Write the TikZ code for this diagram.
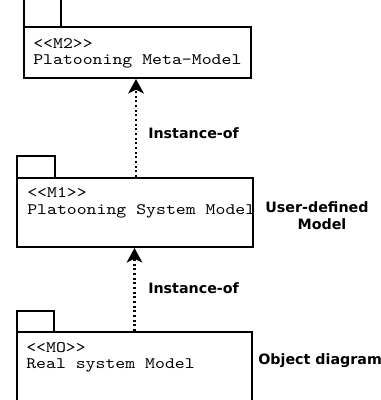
\documentclass[tikz,border=0pt]{standalone}
\usepackage{fontspec}
\setmainfont{DejaVu Sans}
\newfontfamily\pkgfamily[FakeStretch=1.18]{lmmono10-regular.otf}
\usetikzlibrary{fit,arrows.meta}
\newcommand{\pkgfont}{\pkgfamily\fontsize{12}{14}\selectfont}
\begin{document}
\begin{tikzpicture}[x=0.75pt,y=-0.75pt,
  pkgbox/.style={draw=black,line width=1.5pt,inner sep=0pt,fill=white},
  pkgtab/.style={draw=black,line width=1.5pt,fill=white},
  monotext/.style={font=\pkgfont,anchor=base west,inner sep=0pt},
  lbl/.style={font=\bfseries\fontsize{10.7}{12}\selectfont,inner sep=0pt},
  inst/.style={line width=1.6pt,dash pattern=on 1.6pt off 1.9pt,
    -{Stealth[length=11pt,width=12pt,inset=3pt,line width=0pt]}}]
\useasboundingbox (0,0) rectangle (381,400);
\clip (0,0) rectangle (381,400);

% M2 package
\draw[pkgtab] (24,-5) rectangle (61,27);
\node[pkgbox,fit={(24,27) (251,78)}] (m2) {};
\node[monotext] (m2s) at (33,48) {<{}<M2>{}>};
\node[monotext] (m2n) at (33,64) {Platooning Meta-Model};

% M1 package
\draw[pkgtab] (17,156) rectangle (55,178);
\node[pkgbox,fit={(17,178) (253,247)}] (m1) {};
\node[monotext] (m1s) at (27,197) {<{}<M1>{}>};
\node[monotext] (m1n) at (27,214) {Platooning System Model};
\node[lbl,anchor=base] (m1l) at (317,212) {User-defined};
\node[lbl,anchor=base] (m1m) at (322,229) {Model};

% M0 package
\draw[pkgtab] (17,311) rectangle (54,332);
\node[pkgbox,fit={(17,332) (252,410)}] (m0) {};
\node[monotext] (m0s) at (26,352) {<{}<MO>{}>};
\node[monotext] (m0n) at (26,368) {Real system Model};
\node[lbl,anchor=base west] (m0l) at (258,364) {Object diagram};

% instance-of relations
\draw[inst] ([xshift=0.75pt]m1.north) -- ([xshift=0.75pt]m1.north |- m2.south);
\draw[inst] (m0.north) -- (m0.north |- m1.south);
\node[lbl,anchor=base west] (i1) at (148,138) {Instance-of};
\node[lbl,anchor=base west] (i2) at (148,293) {Instance-of};
\end{tikzpicture}
\end{document}
